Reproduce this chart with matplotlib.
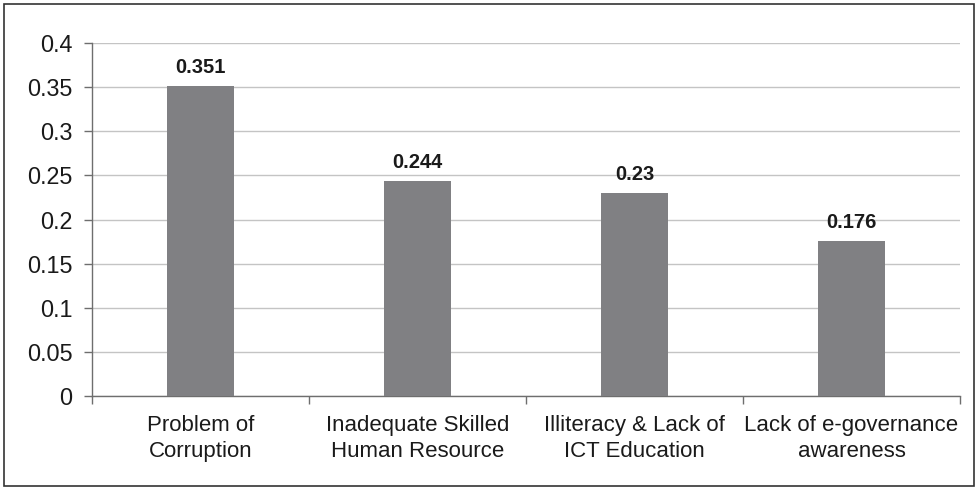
import matplotlib
matplotlib.use("Agg")
import matplotlib.pyplot as plt
from matplotlib.patches import Rectangle
from matplotlib.ticker import FuncFormatter

categories = [
    "Problem of\nCorruption",
    "Inadequate Skilled\nHuman Resource",
    "Illiteracy & Lack of\nICT Education",
    "Lack of e-governance\nawareness",
]
values = [0.351, 0.244, 0.23, 0.176]
value_labels = ["0.351", "0.244", "0.23", "0.176"]
y_ticks = [0, 0.05, 0.1, 0.15, 0.2, 0.25, 0.3, 0.35, 0.4]

plt.rcParams["font.family"] = ["Liberation Sans", "DejaVu Sans"]

fig = plt.figure(figsize=(9.79, 4.9), dpi=100)
ax = fig.add_axes([92 / 979, 94 / 490, 868 / 979, 353 / 490])

text_color = "#1a1a1a"
axis_color = "#6e6e6e"

x = list(range(len(categories)))
ax.bar(x, values, width=0.31, color="#808083", zorder=3)

for xi, v, lab in zip(x, values, value_labels):
    ax.annotate(lab, (xi, v), xytext=(0, 6.5), textcoords="offset points",
                ha="center", va="bottom", fontsize=14.5, fontweight="bold",
                color=text_color)

ax.set_xlim(-0.5, len(categories) - 0.5)
ax.set_ylim(0, 0.4)
ax.set_yticks(y_ticks)
ax.yaxis.set_major_formatter(FuncFormatter(lambda v, p: f"{v:g}"))
ax.yaxis.grid(True, color="#c4c4c4", linewidth=1.0, zorder=0)

ax.set_xticks(x)
ax.set_xticklabels(categories, linespacing=1.3)
ax.set_xticks([i - 0.5 for i in range(len(categories) + 1)], minor=True)
ax.tick_params(axis="x", which="major", length=0, pad=14,
               labelsize=16, labelcolor=text_color)
ax.tick_params(axis="x", which="minor", length=6, width=1.0,
               color=axis_color, direction="out")
ax.tick_params(axis="y", length=6, width=1.0, color=axis_color, pad=8,
               labelsize=16.8, labelcolor=text_color)

for side in ("top", "right"):
    ax.spines[side].set_visible(False)
for side in ("left", "bottom"):
    ax.spines[side].set_color(axis_color)
    ax.spines[side].set_linewidth(1.0)

# outer frame around the whole chart
fig.patches.append(Rectangle((4.5 / 979, 4.5 / 490), 970 / 979, 481 / 490,
                             transform=fig.transFigure, fill=False,
                             edgecolor="#333333", linewidth=1.2))

fig.savefig("out.png", dpi=100)
